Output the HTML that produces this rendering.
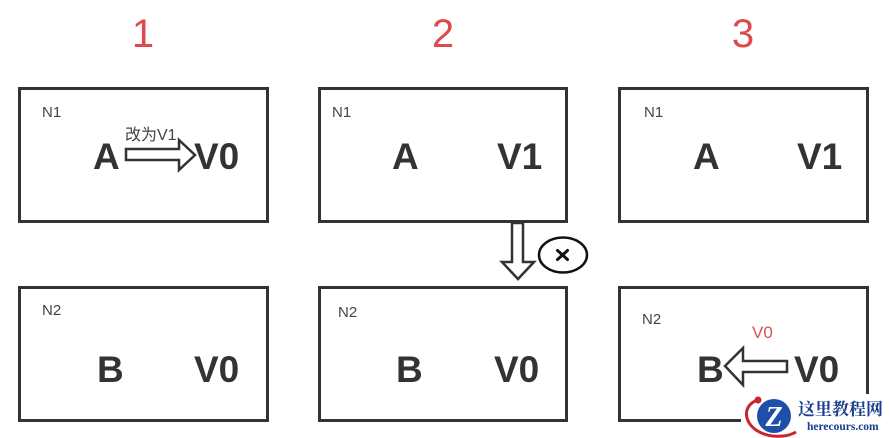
<!DOCTYPE html>
<html>
<head>
<meta charset="utf-8">
<style>
  html, body { margin: 0; padding: 0; background: #fff; }
  body { width: 890px; height: 438px; overflow: hidden; }
  svg { display: block; }
  .t { font-family: "Liberation Sans", "Noto Sans CJK SC", sans-serif; }
</style>
</head>
<body>
<svg width="890" height="438" viewBox="0 0 890 438" xmlns="http://www.w3.org/2000/svg">
  <rect x="0" y="0" width="890" height="438" fill="#fff"/>

  <!-- titles -->
  <g class="t" font-size="40" fill="#e0494b" text-anchor="middle">
    <text x="143" y="47">1</text>
    <text x="443" y="47">2</text>
    <text x="743" y="47">3</text>
  </g>

  <!-- boxes -->
  <g fill="none" stroke="#333" stroke-width="3">
    <rect x="19.5" y="88.5" width="248" height="133"/>
    <rect x="319.5" y="88.5" width="247" height="133"/>
    <rect x="619.5" y="88.5" width="248" height="133"/>
    <rect x="19.5" y="287.5" width="248" height="133"/>
    <rect x="319.5" y="287.5" width="247" height="133"/>
    <rect x="619.5" y="287.5" width="248" height="133"/>
  </g>

  <!-- node labels -->
  <g class="t" font-size="15" fill="#444">
    <text x="42" y="117">N1</text>
    <text x="332" y="117">N1</text>
    <text x="644" y="117">N1</text>
    <text x="42" y="315">N2</text>
    <text x="338" y="317">N2</text>
    <text x="642" y="324">N2</text>
  </g>

  <!-- big letters -->
  <g class="t" font-size="37" font-weight="bold" fill="#333">
    <text x="93" y="169">A</text>
    <text x="194" y="169">V0</text>
    <text x="392" y="169">A</text>
    <text x="497" y="169">V1</text>
    <text x="693" y="169">A</text>
    <text x="797" y="169">V1</text>

    <text x="97" y="382">B</text>
    <text x="194" y="382">V0</text>
    <text x="396" y="382">B</text>
    <text x="494" y="382">V0</text>
    <text x="697" y="382">B</text>
    <text x="794" y="382">V0</text>
  </g>

  <!-- box1 arrow and label -->
  <text class="t" x="125" y="140" font-size="16" fill="#444">改为V1</text>
  <polygon points="126,149 179,149 179,140 195,155 179,170 179,160 126,160" fill="#fff" stroke="#333" stroke-width="2.5" stroke-linejoin="miter"/>

  <!-- down arrow -->
  <polygon points="512,223 523,223 523,262 534,262 518,279 502,262 512,262" fill="#fff" stroke="#333" stroke-width="2.5"/>

  <!-- circle x -->
  <ellipse cx="563" cy="255" rx="24" ry="17.5" fill="#fff" stroke="#111" stroke-width="2.5"/>
  <g stroke="#111" stroke-width="3" stroke-linecap="round">
    <line x1="557.5" y1="250.5" x2="567.5" y2="259.5"/>
    <line x1="567.5" y1="250.5" x2="557.5" y2="259.5"/>
  </g>

  <!-- box3 bottom arrow -->
  <text class="t" x="752" y="338" font-size="17" fill="#d9534f">V0</text>
  <polygon points="787,361 743,361 743,348 725,366 743,385 743,372 787,372" fill="#fff" stroke="#333" stroke-width="2.5"/>

  <!-- watermark logo -->
  <rect x="741" y="394" width="149" height="44" fill="#fff"/>
  <path d="M758,400 C744,404 742,420 756,430 C768,438 786,438 796,432" fill="none" stroke="#c8262c" stroke-width="3"/>
  <circle cx="758" cy="400" r="3.5" fill="#c8262c"/>
  <circle cx="774" cy="416" r="17" fill="#1f4fa8"/>
  <text x="774" y="426" font-family="Liberation Serif, serif" font-size="28" font-weight="bold" fill="#fff" text-anchor="middle" font-style="italic">Z</text>
  <text x="798" y="415" font-family="'Liberation Serif', 'Noto Serif CJK SC', serif" font-size="17" font-weight="bold" fill="#1a3d8f">这里教程网</text>
  <text x="807" y="430" font-family="'Liberation Serif', serif" font-size="11.5" font-weight="bold" fill="#1a3d8f">herecours.com</text>
</svg>
</body>
</html>
